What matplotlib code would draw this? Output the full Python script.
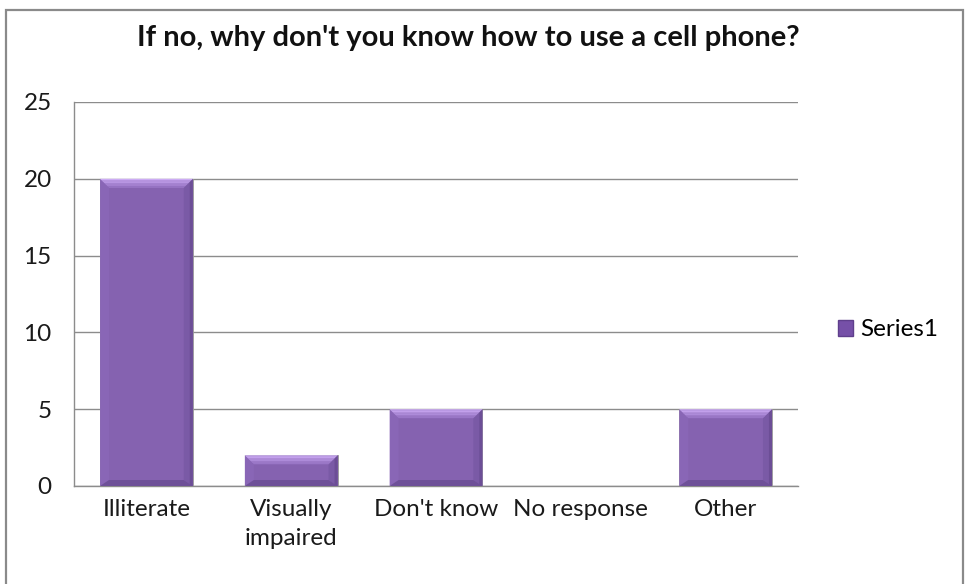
import matplotlib
matplotlib.use("Agg")
import matplotlib.pyplot as plt
from matplotlib.patches import Rectangle, Polygon

categories = ["Illiterate", "Visually\nimpaired", "Don't know", "No response", "Other"]
values = [20, 2, 5, 0, 5]
yticks = [0, 5, 10, 15, 20, 25]
title = "If no, why don't you know how to use a cell phone?"
series_name = "Series1"

FONT = "Lato"
W, H = 965, 584
fig = plt.figure(figsize=(W / 100, H / 100), dpi=100)

# outer chart frame (runs past the bottom edge)
fig.add_artist(Rectangle((6 / W, -10 / H), (963 - 6) / W, (574 + 10) / H,
                         transform=fig.transFigure, fill=False,
                         edgecolor="#8a8a8a", linewidth=1.6))

left, right, top, bottom = 74, 798, 102, 486
ax = fig.add_axes([left / W, (H - bottom) / H, (right - left) / W, (bottom - top) / H])
ax.set_xlim(-0.5, len(categories) - 0.5)
ax.set_ylim(0, 25)

body = "#8562B0"
bw = 0.64
bars = ax.bar(range(len(values)), values, width=bw, color=body, zorder=3,
              edgecolor="#9a9a9a", linewidth=0.6)

# pixel -> data scales for the bevel decoration
px_x = (ax.get_xlim()[1] - ax.get_xlim()[0]) / (right - left)
px_y = (ax.get_ylim()[1] - ax.get_ylim()[0]) / (bottom - top)
b = 9
for r in bars:
    h = r.get_height()
    if h <= 0:
        continue
    x0 = r.get_x()
    x1 = x0 + r.get_width()
    dx, dy = b * px_x, min(b * px_y, h / 2)
    dyb = min(6 * px_y, h / 3)
    # side bevels
    ax.add_patch(Polygon([(x0, 0), (x0, h), (x0 + dx, h - dy), (x0 + dx, dyb)],
                         closed=True, facecolor="#8966B6", edgecolor="none", zorder=4))
    ax.add_patch(Polygon([(x1, 0), (x1, h), (x1 - dx, h - dy), (x1 - dx, dyb)],
                         closed=True, facecolor="#7A5AA6", edgecolor="none", zorder=4))
    ax.add_patch(Polygon([(x1 - 3 * px_x, 0), (x1 - 3 * px_x, h - 3 * px_y), (x1, h), (x1, 0)],
                         closed=True, facecolor="#6C4E96", edgecolor="none", zorder=4))
    # bottom bevel
    ax.add_patch(Polygon([(x0, 0), (x1, 0), (x1 - dx, dyb), (x0 + dx, dyb)],
                         closed=True, facecolor="#6E5098", edgecolor="none", zorder=4))
    # top bevel, shaded in thin bands from light to body colour
    n = 6
    c_top = (0.80, 0.67, 0.96)
    c_bot = (0.56, 0.42, 0.74)
    for i in range(n):
        t0, t1 = i / n, (i + 1) / n
        c = tuple(c_top[k] + (c_bot[k] - c_top[k]) * t0 for k in range(3))
        ax.add_patch(Polygon([(x0 + dx * t0, h - dy * t0), (x1 - dx * t0, h - dy * t0),
                              (x1 - dx * t1, h - dy * t1), (x0 + dx * t1, h - dy * t1)],
                             closed=True, facecolor=c, edgecolor="none", zorder=5))

# axes styling
grid_c = "#8c8c8c"
ax.set_yticks(yticks)
ax.yaxis.grid(True, color=grid_c, linewidth=1.0, zorder=0)
ax.set_axisbelow(True)
for s in ["top", "right"]:
    ax.spines[s].set_visible(False)
for s in ["left", "bottom"]:
    ax.spines[s].set_color(grid_c)
    ax.spines[s].set_linewidth(1.0)
ax.tick_params(axis="y", length=0, pad=16, labelsize=17.5, labelcolor="#1a1a1a")
ax.tick_params(axis="x", length=0, pad=9, labelsize=17.5, labelcolor="#1a1a1a")
ax.set_xticks(range(len(categories)))
ax.set_xticklabels(categories, linespacing=1.5)
for lab in ax.get_xticklabels() + ax.get_yticklabels():
    lab.set_fontfamily(FONT)
ax.set_facecolor("none")

fig.text(468 / W, 1 - 38 / H, title, ha="center", va="center",
         fontsize=21, fontweight="bold", fontfamily=FONT, color="#111111")

handle = Rectangle((0, 0), 1, 1, facecolor="#7650A8", edgecolor="#5f3f8c")
fig.legend([handle], [series_name], loc="center left",
           bbox_to_anchor=(838 / W, 1 - 330 / H), frameon=False,
           prop={"family": FONT, "size": 17.5}, handlelength=0.6, handleheight=0.6,
           handletextpad=0.3, borderaxespad=0, borderpad=0)

fig.savefig("out.png", dpi=100)
